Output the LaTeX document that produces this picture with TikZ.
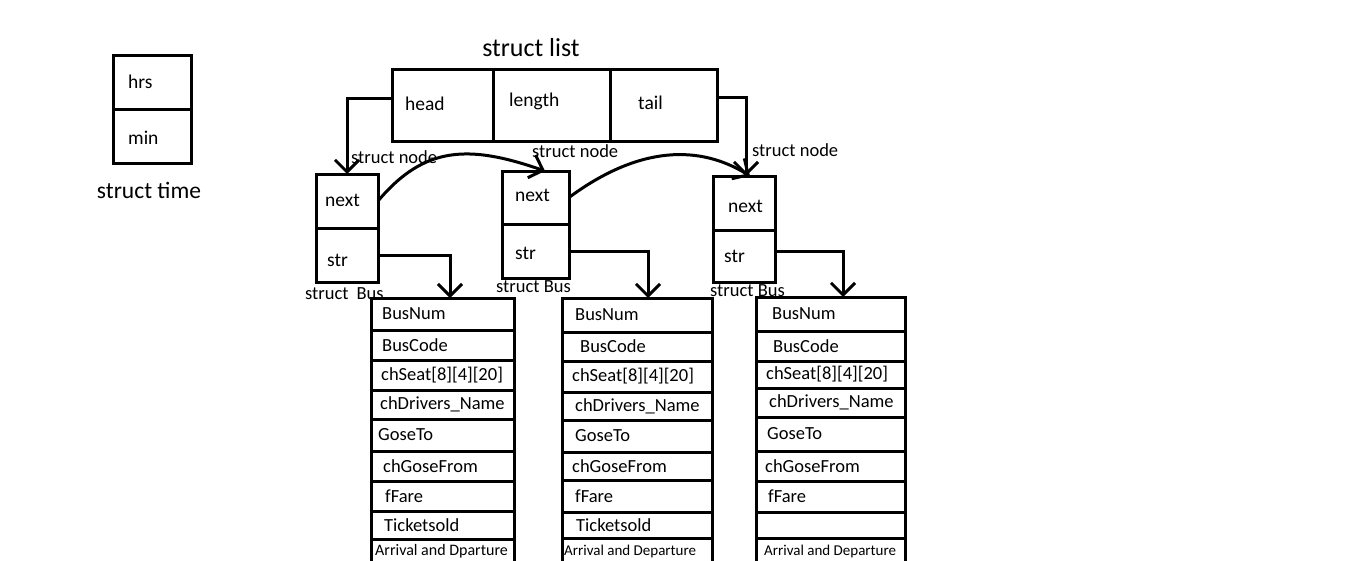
\documentclass[tikz,border=0pt]{standalone}
\usepackage{fontspec}
\setmainfont{Carlito}
\usetikzlibrary{arrows.meta}
\begin{document}
\begin{tikzpicture}[x=1pt,y=-1pt,
  box/.style={draw, line width=3pt, anchor=north west, inner sep=0pt, outer sep=0pt},
  txt/.style={inner sep=0pt, anchor=west, font=\fontsize{19.5}{22}\selectfont},
  btxt/.style={inner sep=0pt, anchor=west, font=\fontsize{18.5}{21}\selectfont},
  lbl/.style={inner sep=0pt, anchor=west, font=\fontsize{18.5}{21}\selectfont},
  ttl/.style={inner sep=0pt, font=\fontsize{#1}{#1}\selectfont},
  arr/.style={line width=3pt, -{Straight Barb[length=12pt, width=24pt]}},
]
\fill[white] (0,0) rectangle (1360,560);
\useasboundingbox (0,0) rectangle (1360,560);
\clip (0,0) rectangle (1360,560);

% struct time
\node[box, minimum width=78, minimum height=54] (th) at (113,55) {};
\node[box, minimum width=78, minimum height=54] (tm) at (113,109) {};
\node[txt] (thx) at ([shift={(15,0)}]th.west) {hrs};
\node[txt] (tmx) at ([shift={(15,2)}]tm.west) {min};
\node[ttl=23.5] (ttime) at (149,190) {struct time};

% struct list
\node[ttl=26] (tlist) at (531,48) {struct list};
\node[box, minimum width=101, minimum height=72] (lh) at (392,69) {};
\node[box, minimum width=117, minimum height=72] (ll) at (493,69) {};
\node[box, minimum width=107, minimum height=72] (lt) at (610,69) {};
\node[txt] (lhx) at ([shift={(13,-1)}]lh.west) {head};
\node[txt] (llx) at ([shift={(16,-4)}]ll.west) {length};
\node[txt] (ltx) at ([shift={(28,-2)}]lt.west) {tail};

% struct nodes
\node[box, minimum width=62, minimum height=54] (n1a) at (316,174) {};
\node[box, minimum width=62, minimum height=54] (n1b) at (316,228) {};
\node[box, minimum width=67, minimum height=53] (n2a) at (502,171) {};
\node[box, minimum width=67, minimum height=54] (n2b) at (502,224) {};
\node[box, minimum width=62, minimum height=54] (n3a) at (713,176) {};
\node[box, minimum width=62, minimum height=52] (n3b) at (713,230) {};
\node[txt] (n1ax) at ([shift={(9,-1)}]n1a.west) {next};
\node[txt] (n1bx) at ([shift={(11,5)}]n1b.west) {str};
\node[txt] (n2ax) at ([shift={(13,-2)}]n2a.west) {next};
\node[txt] (n2bx) at ([shift={(13,2)}]n2b.west) {str};
\node[txt] (n3ax) at ([shift={(15,3)}]n3a.west) {next};
\node[txt] (n3bx) at ([shift={(11,0)}]n3b.west) {str};

\node[lbl] (sn1) at (351,157) {struct node};
\node[lbl] (sn2) at (532,151) {struct node};
\node[lbl] (sn3) at (752,150) {struct node};
\node[lbl] (sb1) at (305,294) {struct\hspace{8pt}Bus};
\node[lbl] (sb2) at (496,287) {struct Bus};
\node[lbl] (sb3) at (710,291) {struct Bus};

% struct Bus boxes
\foreach \i/\ya/\yb/\dx/\lab in {1/298/330/11/BusNum, 2/330/360/11/BusCode,
   3/360/390/10/{chSeat[8][4][20]}, 4/390/419/9/{chDrivers\_Name}, 5/419/451/7/GoseTo,
   6/451/481/12/chGoseFrom, 7/481/511/14/fFare, 8/511/539/13/Ticketsold,
   9/539/564/4/{\fontsize{16}{18}\selectfont Arrival and Dparture}}{
  \node[box, minimum width=143, minimum height={\yb-\ya}] (b1r\i) at (371,\ya) {};
  \node[btxt] (b1t\i) at ([xshift=\dx]b1r\i.west) {\lab};
}
\foreach \i/\ya/\yb/\dx/\lab in {1/298/332/13/BusNum, 2/332/361/18/BusCode,
   3/361/392/10/{chSeat[8][4][20]}, 4/392/420/13/{chDrivers\_Name}, 5/420/452/13/GoseTo,
   6/452/480/10/chGoseFrom, 7/480/512/13/fFare, 8/512/538/14/Ticketsold,
   9/538/565/2/{\fontsize{15}{17}\selectfont Arrival and Departure}}{
  \node[box, minimum width=150, minimum height={\yb-\ya}] (b2r\i) at (562,\ya) {};
  \node[btxt] (b2t\i) at ([xshift=\dx]b2r\i.west) {\lab};
}
\foreach \i/\ya/\yb/\dx/\lab in {1/297/331/16/BusNum, 2/331/361/17/BusCode,
   3/361/388/10/{chSeat[8][4][20]}, 4/388/417/13/{chDrivers\_Name}, 5/417/451/11/GoseTo,
   6/451/481/9/chGoseFrom, 7/481/512/12/fFare, 8/512/538/12/{},
   9/538/564/8/{\fontsize{15}{17}\selectfont Arrival and Departure}}{
  \node[box, minimum width=149, minimum height={\yb-\ya}] (b3r\i) at (756,\ya) {};
  \node[btxt] (b3t\i) at ([xshift=\dx]b3r\i.west) {\lab};
}

% connectors
\draw[arr] ([yshift=7pt]lh.west) -| (n1a.north);
\draw[arr] ([yshift=8pt]lt.east) -| ([xshift=2pt]n3a.north);
\draw[arr] (n1a.east) .. controls (425,145) and (470,145) .. ([xshift=9.5pt]n2a.north);
\draw[arr] (n2a.east) .. controls (640,145) and (700,145) .. ([xshift=6pt]n3a.north);
\draw[arr] (n1b.east) -| ([xshift=7.5pt]b1r1.north);
\draw[arr] (n2b.east) -| ([xshift=11pt]b2r1.north);
\draw[arr] ([yshift=5pt]n3b.east) -| ([xshift=12.5pt]b3r1.north);
\end{tikzpicture}
\end{document}
